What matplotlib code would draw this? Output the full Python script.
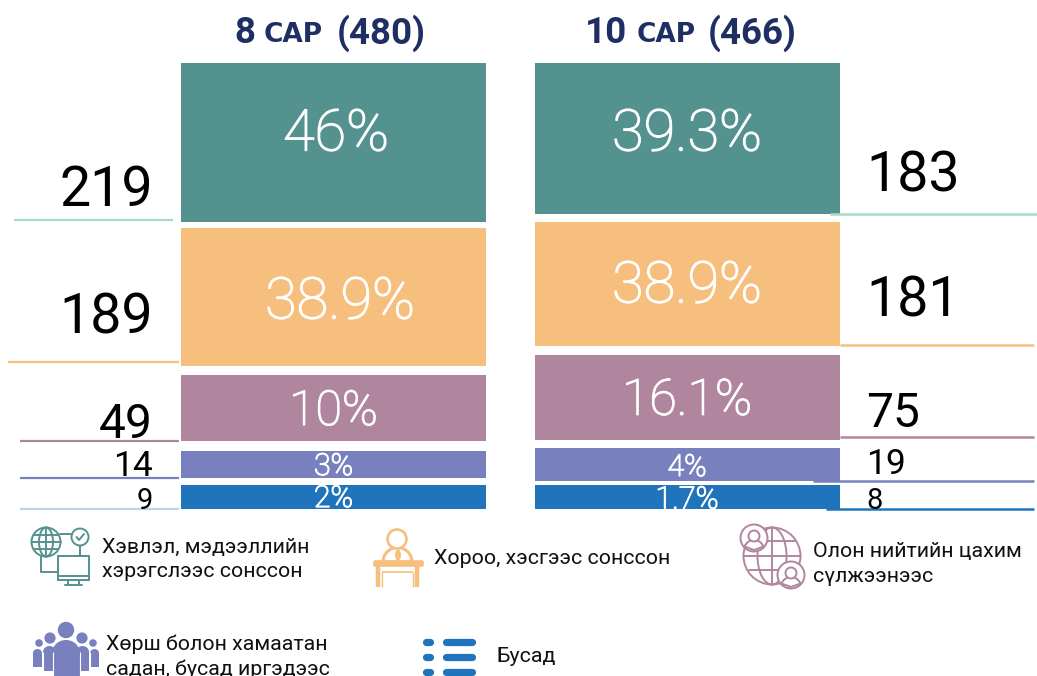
import matplotlib
matplotlib.use("Agg")
import matplotlib.pyplot as plt
import matplotlib.patheffects as pe
from matplotlib.patches import Circle, Rectangle, FancyBboxPatch, Ellipse, Wedge

plt.rcParams['font.family'] = ['Roboto', 'DejaVu Sans']

# data
periods = ["8", "10"]
totals = ["(480)", "(466)"]
sac = "САР"
colors = ["#549290", "#F6BF7E", "#B0869E", "#7881BE", "#1F74BC"]
line_colors = ["#A6DBC8", "#F6BF7E", "#B0869E", "#7881BE", "#BBD5F0"]
line_colors_r = ["#A6DBC8", "#F6BF7E", "#B0869E", "#7881BE", "#1F74BC"]

pct_left = ["46%", "38.9%", "10%", "3%", "2%"]
pct_right = ["39.3%", "38.9%", "16.1%", "4%", "1.7%"]
cnt_left = ["219", "189", "49", "14", "9"]
cnt_right = ["183", "181", "75", "19", "8"]

# segment extents (top, bottom on the picture's vertical scale)
top_left = [63, 228, 375, 451, 485]
bot_left = [222, 366, 441, 478, 509]
top_right = [63, 222, 355, 448, 485]
bot_right = [214, 346, 440, 481, 509]

legend_labels = ["Хэвлэл, мэдээллийн\nхэрэгслээс сонссон", "Хороо, хэсгээс сонссон",
                 "Олон нийтийн цахим\nсүлжээнээс", "Хөрш болон хамаатан\nсадан, бусад иргэдээс", "Бусад"]

W, H = 1037, 676
fig = plt.figure(figsize=(W/100, H/100), dpi=100)
ax = fig.add_axes([0, 0, 1, 1])
ax.set_xlim(0, W); ax.set_ylim(H, 0); ax.axis('off')

def col(x0, x1, tops, bots, pcts, psizes, px, py):
    for t, b, c, p, s, x, y in zip(tops, bots, colors, pcts, psizes, px, py):
        ax.bar((x0+x1)/2, b-t, width=x1-x0, bottom=t, color=c, linewidth=0)
        ax.text(x, y, p, color='white', fontsize=s, ha='center', va='center', fontweight='light',
                path_effects=[pe.withStroke(linewidth=0.9, foreground='white')])

col(181, 486, top_left, bot_left, pct_left, [41.5, 41.5, 34.7, 21.8, 21.8],
    [336, 340, 333.5, 333.5, 333.5], [135, 303, 412, 467, 499])
col(535, 840, top_right, bot_right, pct_right, [41.5, 41.5, 36, 21.8, 22.2],
    [687, 687, 687, 687, 687], [135, 287, 401, 468, 500])

# left counts and leader lines
lx = [(14, 173, 220), (8, 179, 362), (20, 179, 441), (20, 179, 477.5), (20, 179, 508.5)]
for (a, b, y), c in zip(lx, line_colors):
    ax.plot([a, b], [y, y], color=c, lw=1.6, solid_capstyle='butt')
for s, size, y in zip(cnt_left, [40, 40, 34.5, 25.5, 21], [191, 318, 425, 466, 501]):
    ax.text(153, y, s, fontsize=size, ha='right', va='center', color='black')

# right counts and leader lines
rx = [(830, 1037, 213.5), (840, 1034, 345), (840, 1034, 437), (813, 1034, 481), (826, 1034, 509)]
for (a, b, y), c in zip(rx, line_colors_r):
    ax.plot([a, b], [y, y], color=c, lw=1.8, solid_capstyle='butt', zorder=3)
for s, size, y in zip(cnt_right, [40, 40, 34.5, 25.5, 21], [176, 301, 414, 464, 501]):
    ax.text(866, y, s, fontsize=size, ha='left', va='center', color='black', zorder=4)

# titles
navy = "#1F2F63"
for x, p, tot, xs, xt in [(234, periods[0], totals[0], 264, 337), (585, periods[1], totals[1], 637, 708)]:
    ax.text(x, 33, p, fontsize=26.5, fontweight='bold', color=navy, ha='left', va='center')
    ax.text(xs, 35, sac, fontsize=19, fontweight='bold', color=navy, ha='left', va='center', family='DejaVu Sans')
    ax.text(xt, 33, tot, fontsize=26.5, fontweight='bold', color=navy, ha='left', va='center')

# legend text
for (x, y), s in zip([(102, 559.5), (434, 559), (813, 564), (106, 657), (496, 656)], legend_labels):
    ax.text(x, y, s, fontsize=15.4, ha='left', va='center', color='#111111', linespacing=1.38)

def L(xs, ys, col_, w=1.4, cap='round'):
    ax.plot(xs, ys, color=col_, lw=w, solid_capstyle=cap)

# icon 1: globe + monitor
c = colors[0]; lw = 1.4
ax.add_patch(Circle((46, 542), 14.5, fc='none', ec=c, lw=lw))
ax.add_patch(Ellipse((46, 542), 14, 29, fc='none', ec=c, lw=lw))
L([46, 46], [527.5, 556.5], c); L([31.5, 60.5], [542, 542], c)
L([34, 58], [535, 535], c); L([34, 58], [549, 549], c)
ax.add_patch(Circle((80, 537), 8.5, fc='none', ec=c, lw=lw))
L([76.5, 79, 84], [537, 540, 534], c)
L([60, 71], [534, 534], c)
L([80, 80], [546, 556], c)
L([41, 41, 58], [556, 572, 572], c)
ax.add_patch(Rectangle((58, 556), 31, 24, fc='none', ec=c, lw=lw))
L([58, 89], [576, 576], c); L([68, 68], [580, 584], c); L([79, 79], [580, 584], c); L([65, 82], [584.5, 584.5], c)

# icon 2: speaker at a desk
c = colors[1]
ax.add_patch(Circle((397, 539), 9.5, fc='white', ec=c, lw=1.9, zorder=3))
ax.add_patch(Wedge((397.5, 562), 14.5, 180, 360, fc='none', ec=c, lw=2.2))
ax.add_patch(Ellipse((398, 555), 6, 11, fc=c, lw=0, zorder=3))
ax.add_patch(FancyBboxPatch((375, 562), 47, 3, boxstyle="round,pad=1.5,rounding_size=2", fc=c, ec=c, lw=0.5, zorder=3))
for x in (378, 417):
    L([x, x], [566, 587], c, 3.2, 'butt')
L([382, 413], [572, 572], c, 1.2, 'butt')
L([382, 382], [572, 587], c, 1.0, 'butt')
L([413, 413], [572, 587], c, 1.0, 'butt')

# icon 3: globe with users
c = colors[2]; lw = 1.4
ax.add_patch(Circle((772, 556), 28.5, fc='none', ec=c, lw=lw))
ax.add_patch(Ellipse((772, 556), 29, 57, fc='none', ec=c, lw=lw))
L([772, 772], [528, 584], c); L([744, 800], [556, 556], c)
L([749, 795], [541, 541], c); L([749, 795], [570, 570], c)
for cx, cy in [(754, 538), (791, 575)]:
    ax.add_patch(Circle((cx, cy), 13.5, fc='white', ec=c, lw=lw, zorder=3))
    ax.add_patch(Wedge((cx, cy+12), 10, 200, 340, fc='none', ec=c, lw=lw, zorder=4))
    ax.add_patch(Circle((cx, cy-2), 5.5, fc='white', ec=c, lw=lw, zorder=5))

# icon 4: group
c = colors[3]
def person(x0, x1, top, bot, z):
    r = (x1-x0)/2
    ax.add_patch(Ellipse((x0+r, top+r*0.9), 2*r, 1.8*r, fc=c, lw=0, zorder=z))
    ax.add_patch(Rectangle((x0, top+r*0.9), 2*r, bot-top-r*0.9, fc=c, lw=0, zorder=z))
for cx, r in [(66, 8.2), (50, 5.6), (82, 5.6), (39, 3.8), (93, 3.8)]:
    ax.add_patch(Circle((cx, 630 if r > 8 else (638 if r > 5 else 643)), r, fc=c, lw=0))
person(33, 42, 649, 667, 2); person(90, 99, 649, 667, 2)
person(43, 56, 646, 671, 3); person(76, 89, 646, 671, 3)
person(52.5, 79.5, 640, 676, 4)
for x in (42.5, 52.5, 79.5, 89.5):
    L([x, x], [652, 676], 'white', 0.8, 'butt')
    ax.lines[-1].set_zorder(5)

# icon 5: list
c = colors[4]
for y in (642, 657, 672):
    L([426, 429.5], [y, y], c, 5.2); L([445.5, 471.5], [y, y], c, 5.2)

ax.set_xlim(0, W); ax.set_ylim(H, 0)
fig.savefig("out.png", dpi=100, facecolor='white')
